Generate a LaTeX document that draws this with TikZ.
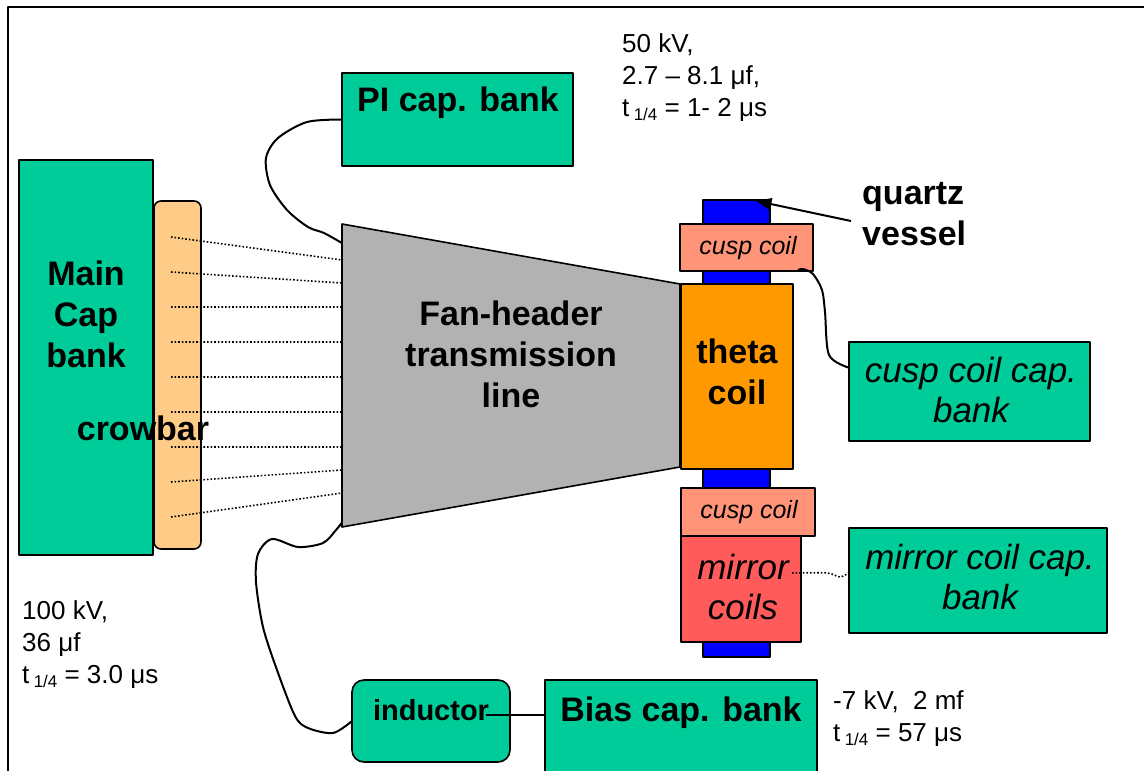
\documentclass[tikz,border=0pt]{standalone}
\usepackage{fontspec}
\setmainfont{Liberation Sans}
\usetikzlibrary{calc,arrows.meta}
\definecolor{bankgreen}{HTML}{00CC99}
\definecolor{crowfill}{HTML}{FFCC88}
\definecolor{fangray}{HTML}{B2B2B2}
\definecolor{thetaor}{HTML}{FF9900}
\definecolor{vesselblue}{HTML}{0000FF}
\definecolor{cuspsalmon}{HTML}{FF9478}
\definecolor{mirrorred}{HTML}{FF5B5B}
\newcommand{\tquart}{t\,{\fontsize{17}{17}\selectfont\raisebox{-4pt}{1/4}}}
\tikzset{
  box/.style={draw=black, line width=1.6pt, inner sep=0pt, outer sep=0pt},
  bigb/.style={font=\fontsize{34}{41}\selectfont\bfseries, align=center, inner sep=0pt},
  bigi/.style={font=\fontsize{35}{40}\selectfont\itshape, align=center, inner sep=0pt},
  smalli/.style={font=\fontsize{25}{30}\selectfont\itshape, inner sep=0pt},
  note/.style={font=\fontsize{26}{32}\selectfont, align=left, inner sep=0pt, anchor=west},
  wire/.style={draw=black, line width=2pt},
  dotwire/.style={draw=black, line width=1.6pt, dash pattern=on 1.6pt off 2pt},
}
\begin{document}
\begin{tikzpicture}[x=1pt,y=-1pt,line join=round]
\useasboundingbox (0,0) rectangle (1144,771);
\clip (0,0) rectangle (1144,771);
\fill[white] (0,0) rectangle (1144,771);
\draw[line width=2pt] (8,800) -- (8,7) -- (1170,7);

% main cap bank and crowbar
\node[box, fill=bankgreen, minimum width=134, minimum height=395] (main) at (86,357.5) {};
\node[box, fill=crowfill, rounded corners=7pt, minimum width=47, minimum height=348] (crow) at (177.5,375) {};
\node[bigb] (maintxt) at (86,314) {Main\\Cap\\bank};
\node[bigb, anchor=base] (crowtxt) at (143,440) {crowbar};

% fan-header transmission line
\coordinate (ftl) at (342,224);
\coordinate (ftr) at (680,284);
\coordinate (fbr) at (680,467);
\coordinate (fbl) at (342,527);
\draw[box, fill=fangray] (ftl) -- (ftr) -- (fbr) -- (fbl) -- cycle;
\node[bigb] (fantxt) at (511,354) {Fan-header\\transmission\\line};

% dotted crowbar connections
\foreach \ys/\ye [count=\i] in {237/260,272/283,307/307,342/342,377/377,412/412,447/447,482/470,517/493}{
  \coordinate (cs\i) at (171,\ys);
  \coordinate (ce\i) at ($(ftl)!{(\ye-224)/303}!(fbl)$);
  \draw[dotwire] (cs\i) -- (ce\i);
}

% quartz vessel, coils
\node[box, fill=vesselblue, minimum width=67, minimum height=457] (vessel) at (736.5,428.5) {};
\node[box, fill=thetaor, minimum width=112, minimum height=185] (theta) at (737,376.5) {};
\node[bigb] (thetatxt) at (737,372) {theta\\coil};
\node[box, fill=cuspsalmon, minimum width=133, minimum height=47] (ucusp) at (746.5,247.5) {};
\node[smalli] (ucusptxt) at (748,248) {cusp coil};
\node[box, fill=cuspsalmon, minimum width=134, minimum height=48] (lcusp) at (748,512) {};
\node[smalli] (lcusptxt) at (749,512) {cusp coil};
\node[box, fill=mirrorred, minimum width=120, minimum height=106] (mirror) at (741,589) {};
\node[bigi] (mirrortxt) at (743,587) {mirror\\coils};

% quartz vessel label
\node[bigb, align=left, anchor=west] (qv) at (862,214) {quartz\\vessel};
\coordinate (qtail) at ($(qv.west)+(-11,7)$);
\coordinate (qtip) at ($(vessel.north)+(20,1)$);
\draw[wire, -{Triangle[length=15pt,width=12pt]}] (qtail) -- (qtip);

% PI cap bank
\node[box, fill=bankgreen, minimum width=231, minimum height=93] (pi) at (457.5,119.5) {};
\node[bigb] (pitxt) at (458,103) {PI cap. bank};
\node[note] (pinote) at (622,78) {50 kV,\\2.7 – 8.1 μf,\\\tquart{} = 1- 2 μs};
\coordinate (fanpin) at ($(ftl)!0.063!(fbl)$);
\draw[wire] plot[smooth] coordinates {(pi.west) (307,122) (278,138) (266,158) (270,185) (287,210) (308,227) (324,233) (fanpin)};

% cusp coil cap bank
\node[box, fill=bankgreen, minimum width=241, minimum height=99] (cuspbank) at (969.5,391.5) {};
\node[bigi] (cuspbanktxt) at (971,390) {cusp coil cap.\\bank};
\coordinate (cuspstart) at ($(ucusp.south east)+(-15,-1)$);
\coordinate (cuspend) at ($(cuspbank.north west)!0.26!(cuspbank.south west)$);
\draw[wire] plot[smooth] coordinates {(cuspstart) (803,269) (813,274) (822,290) (825,312) (829,355) (cuspend)};

% mirror coil cap bank
\node[box, fill=bankgreen, minimum width=258, minimum height=105] (mbank) at (978,580.5) {};
\node[bigi] (mbanktxt) at (980,577) {mirror coil cap.\\bank};
\coordinate (mstart) at ($(mirror.east)+(-9,-16)$);
\coordinate (mend) at ($(mbank.west)+(0,-8)$);
\draw[dotwire] plot[smooth] coordinates {(mstart) (827,573) (840,577) (mend)};

% main bank note
\node[note] (mainnote) at (22,645) {100 kV,\\36 μf\\\tquart{} = 3.0 μs};

% inductor and bias bank
\node[box, fill=bankgreen, rounded corners=12pt, minimum width=158, minimum height=82] (ind) at (431,721) {};
\node[font=\fontsize{29}{34}\selectfont\bfseries, inner sep=0pt] (indtxt) at (431,710) {inductor};
\node[box, fill=bankgreen, minimum width=272, minimum height=120] (bias) at (681,740) {};
\node[bigb, anchor=base] (biastxt) at (681,721) {Bias cap. bank};
\node[note] (biasnote) at (833,719) {-7 kV,\ \ 2 mf\\\tquart{} = 57 μs};
\coordinate (indout) at ($(indtxt.east)+(-3,5)$);
\draw[wire] (indout) -- (indout -| bias.west);

\coordinate (fanbot) at ($(ftl)!0.985!(fbl)$);
\draw[wire] plot[smooth] coordinates {(fanbot) (336,530) (323,543) (298,547) (272,539) (258,554) (256,582) (263,627) (277,670) (295,716) (308,728) (333,733) (ind.west)};
\end{tikzpicture}
\end{document}
